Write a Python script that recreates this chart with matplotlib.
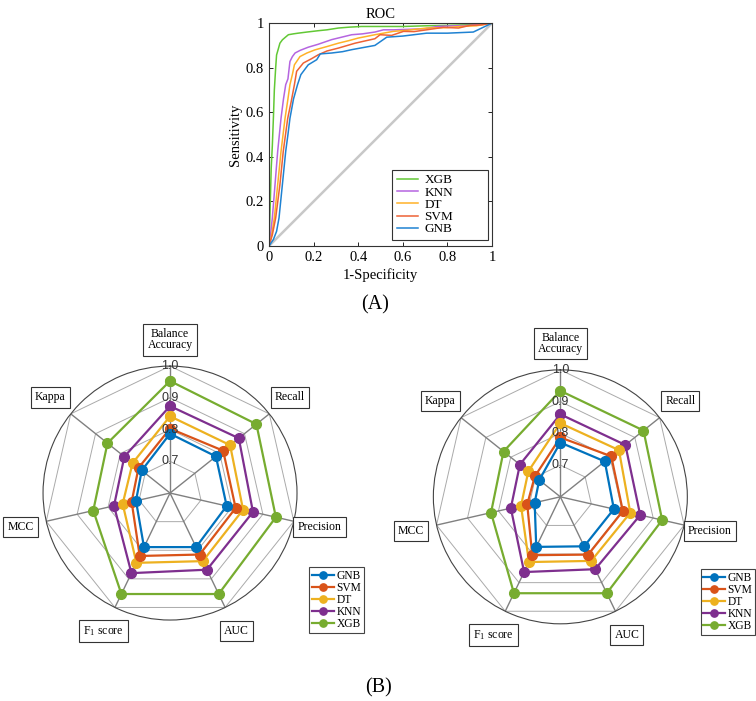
import numpy as np
import matplotlib
matplotlib.use('Agg')
import matplotlib.pyplot as plt

plt.rcParams['font.family'] = ['Liberation Serif', 'DejaVu Serif']
plt.rcParams['mathtext.fontset'] = 'stix'

# ROC curves
xgb_fpr = [0, 0.003, 0.006, 0.010, 0.015, 0.020, 0.024, 0.030, 0.034, 0.042, 0.049, 0.060, 0.075,
           0.087, 0.110, 0.131, 0.170, 0.221, 0.260, 0.311, 0.360, 0.415, 0.500, 0.600, 0.700, 0.800, 0.900, 1.0]
xgb_tpr = [0, 0.10, 0.20, 0.35, 0.45, 0.58, 0.70, 0.80, 0.857, 0.885, 0.91, 0.925, 0.938,
           0.948, 0.952, 0.955, 0.960, 0.966, 0.970, 0.978, 0.982, 0.985, 0.985, 0.985, 0.988, 0.990, 0.993, 1.0]

knn_fpr = [0, 0.008, 0.015, 0.027, 0.039, 0.054, 0.065, 0.075, 0.085, 0.094, 0.105, 0.117, 0.140, 0.176,
           0.220, 0.281, 0.330, 0.371, 0.420, 0.475, 0.513, 0.560, 0.620, 0.700, 0.752, 0.800, 0.900, 1.0]
knn_tpr = [0, 0.06, 0.126, 0.275, 0.425, 0.573, 0.66, 0.724, 0.75, 0.828, 0.85, 0.866, 0.878, 0.892,
           0.905, 0.926, 0.938, 0.948, 0.952, 0.960, 0.970, 0.970, 0.972, 0.975, 0.985, 0.987, 0.990, 1.0]

dt_fpr = [0, 0.012, 0.024, 0.039, 0.054, 0.072, 0.085, 0.094, 0.105, 0.114, 0.139, 0.170, 0.206,
          0.260, 0.311, 0.360, 0.400, 0.475, 0.557, 0.620, 0.707, 0.800, 0.856, 0.930, 1.0]
dt_tpr = [0, 0.05, 0.126, 0.275, 0.425, 0.573, 0.66, 0.724, 0.77, 0.813, 0.85, 0.866, 0.88,
          0.895, 0.91, 0.922, 0.933, 0.948, 0.963, 0.968, 0.978, 0.980, 0.985, 0.988, 1.0]

svm_fpr = [0, 0.015, 0.030, 0.049, 0.064, 0.084, 0.100, 0.114, 0.124, 0.154, 0.190, 0.221, 0.260, 0.311,
           0.386, 0.430, 0.475, 0.498, 0.550, 0.603, 0.650, 0.707, 0.782, 0.850, 0.901, 0.950, 1.0]
svm_tpr = [0, 0.05, 0.126, 0.275, 0.425, 0.573, 0.65, 0.724, 0.784, 0.821, 0.84, 0.858, 0.875, 0.888,
           0.91, 0.92, 0.93, 0.948, 0.945, 0.963, 0.962, 0.970, 0.981, 0.978, 0.990, 0.992, 1.0]

gnb_fpr = [0, 0.020, 0.034, 0.045, 0.060, 0.075, 0.085, 0.094, 0.110, 0.128, 0.143, 0.176, 0.214,
           0.230, 0.281, 0.330, 0.371, 0.420, 0.475, 0.528, 0.600, 0.707, 0.800, 0.916, 1.0]
gnb_tpr = [0, 0.03, 0.066, 0.126, 0.275, 0.425, 0.50, 0.573, 0.66, 0.724, 0.769, 0.813, 0.836,
           0.862, 0.866, 0.872, 0.881, 0.89, 0.90, 0.937, 0.942, 0.955, 0.955, 0.96, 1.0]

roc_names = ['XGB', 'KNN', 'DT', 'SVM', 'GNB']
roc_colors = ['#62C835', '#B565E0', '#FFB128', '#EE6235', '#1F82D2']

# radar charts
metrics = ['Balance\nAccuracy', 'Recall', 'Precision', 'AUC',
           r'F$_\mathregular{1}$ score', 'MCC', 'Kappa']
models = ['GNB', 'SVM', 'DT', 'KNN', 'XGB']
model_colors = ['#0072BD', '#D95319', '#EDB120', '#7E2F8E', '#77AC30']

left_gnb = [0.787, 0.785, 0.783, 0.789, 0.789, 0.710, 0.714]
left_svm = [0.803, 0.814, 0.812, 0.815, 0.820, 0.724, 0.727]
left_dt = [0.842, 0.842, 0.836, 0.838, 0.844, 0.753, 0.751]
left_knn = [0.874, 0.877, 0.868, 0.868, 0.880, 0.781, 0.784]
left_xgb = [0.953, 0.948, 0.942, 0.953, 0.953, 0.848, 0.852]

right_gnb = [0.771, 0.779, 0.773, 0.773, 0.775, 0.683, 0.685]
right_svm = [0.787, 0.805, 0.802, 0.802, 0.804, 0.707, 0.703]
right_dt = [0.832, 0.836, 0.826, 0.824, 0.828, 0.727, 0.729]
right_knn = [0.860, 0.862, 0.858, 0.853, 0.863, 0.760, 0.763]
right_xgb = [0.934, 0.935, 0.929, 0.937, 0.937, 0.824, 0.829]

ring_levels = [0.7, 0.8, 0.9, 1.0]

fig = plt.figure(figsize=(7.56, 7.01), dpi=100)

# ---- (A) ROC ----
ax = fig.add_axes([0.3558, 0.649, 0.295, 0.318])
ax.plot([0, 1], [0, 1], color='#c8c8c8', lw=1.8, zorder=1)
roc_data = [(xgb_fpr, xgb_tpr), (knn_fpr, knn_tpr), (dt_fpr, dt_tpr),
            (svm_fpr, svm_tpr), (gnb_fpr, gnb_tpr)]
for (f, t), name, c in zip(roc_data, roc_names, roc_colors):
    ax.plot(f, t, color=c, lw=1.1, label=name)
ax.set_xlim(0, 1)
ax.set_ylim(0, 1)
ticks = [0, 0.2, 0.4, 0.6, 0.8, 1]
tick_labels = ['0', '0.2', '0.4', '0.6', '0.8', '1']
ax.set_xticks(ticks)
ax.set_xticklabels(tick_labels)
ax.set_yticks(ticks)
ax.set_yticklabels(tick_labels)
ax.tick_params(direction='in', top=True, right=True, labelsize=10.5, length=3, width=0.6)
for s in ax.spines.values():
    s.set_linewidth(0.8)
    s.set_color('#333333')
ax.set_title('ROC', fontsize=10.5, pad=4)
ax.set_xlabel('1-Specificity', fontsize=10.5, labelpad=3)
ax.set_ylabel('Sensitivity', fontsize=10.5, labelpad=3)
leg = ax.legend(loc='lower left', bbox_to_anchor=(0.552, 0.027, 0.43, 0.30), mode='expand',
                fontsize=9.5, fancybox=False, edgecolor='#333333', framealpha=1,
                handlelength=1.6, handletextpad=0.5, labelspacing=0.0, borderpad=0.35,
                borderaxespad=0)
leg.get_frame().set_linewidth(0.8)

fig.text(0.496, 0.565, '(A)', fontsize=14.5, ha='center', va='center')
fig.text(0.500, 0.019, '(B)', fontsize=14.5, ha='center', va='center')

# ---- (B) radars ----
angles = np.linspace(0, 2 * np.pi, len(metrics), endpoint=False)
closed = np.append(angles, angles[0])


def radar(rect, series, legend_loc, legend_anchor):
    ax = fig.add_axes(rect, projection='polar')
    ax.set_theta_zero_location('N')
    ax.set_theta_direction(-1)
    ax.set_ylim(0.6, 1.0)
    ax.set_xticks([])
    ax.set_yticks([])
    ax.grid(False)
    ax.spines['polar'].set_color('#444444')
    ax.spines['polar'].set_linewidth(0.8)
    ax.patch.set_alpha(0)
    for lv in ring_levels:
        ax.plot(closed, [lv] * len(closed), color='#aaaaaa', lw=0.7, zorder=1)
    for a in angles:
        ax.plot([a, a], [0.6, 1.0], color='#808080', lw=1.0, zorder=1)
    handles = []
    for i in range(len(models) - 1, -1, -1):
        vals = np.append(series[i], series[i][0])
        h, = ax.plot(closed, vals, '-o', color=model_colors[i], lw=1.6, ms=7,
                     zorder=3 + (len(models) - i))
        handles.append(h)
    handles = handles[::-1]
    for lv in ring_levels:
        ax.text(0, lv, f'{lv:.1f}', ha='center', va='center', fontsize=9,
                family=['Liberation Sans', 'DejaVu Sans'], color='#333333', zorder=10)
    for a, m in zip(angles, metrics):
        ax.text(a, 1.083, m, ha='center', va='center', fontsize=8.5, linespacing=0.95,
                bbox=dict(boxstyle='square,pad=0.35', fc='white', ec='#333333', lw=0.8))
    leg = ax.legend(handles, models, loc=legend_loc, bbox_to_anchor=legend_anchor,
                    bbox_transform=fig.transFigure, fontsize=8.3, fancybox=False,
                    edgecolor='#444444', framealpha=1, handlelength=1.9,
                    handletextpad=0.2, labelspacing=0.0, borderpad=0.25,
                    borderaxespad=0, markerscale=0.75)
    leg.get_frame().set_linewidth(0.8)
    return ax


left_series = [left_gnb, left_svm, left_dt, left_knn, left_xgb]
right_series = [right_gnb, right_svm, right_dt, right_knn, right_xgb]
radar([0.0569, 0.1155, 0.336, 0.3623], left_series, 'lower left', (0.409, 0.097))
radar([0.5732, 0.1101, 0.336, 0.3623], right_series, 'lower right', (0.999, 0.094))

fig.savefig('out.png', dpi=100)
